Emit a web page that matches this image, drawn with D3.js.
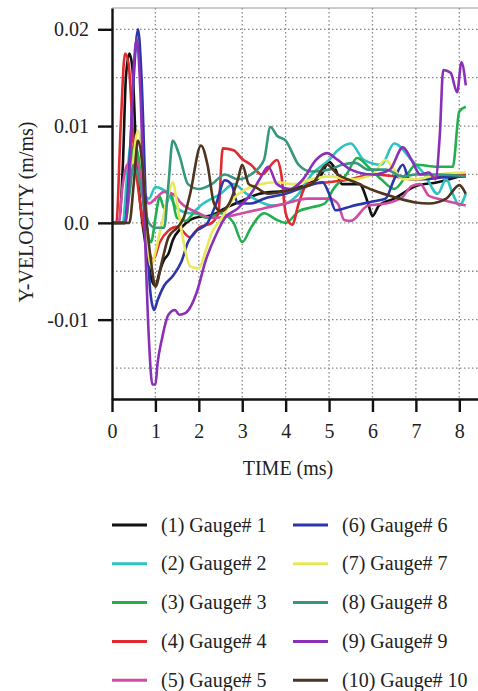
<!DOCTYPE html>
<meta charset="utf-8">
<style>
body { margin: 0; background: #fff; }
text { font-family: "Liberation Serif", "DejaVu Serif", serif; fill: #222; }
.grid line { stroke: #888; stroke-width: 1.3; stroke-dasharray: 1.5,2.5; }
.axis path, .axis line { stroke: #111; stroke-width: 2.4; }
.gauge { fill: none; stroke-width: 2.6; stroke-linejoin: round; }
</style>
<body>
<script src="https://cdn.jsdelivr.net/npm/d3@7"></script>
<script>

// gauge names and colours
var gaugeNames = ["(1) Gauge# 1", "(2) Gauge# 2", "(3) Gauge# 3", "(4) Gauge# 4", "(5) Gauge# 5",
                  "(6) Gauge# 6", "(7) Gauge# 7", "(8) Gauge# 8", "(9) Gauge# 9", "(10) Gauge# 10"];
var gaugeColors = ["#111111", "#2cc3c0", "#22b04e", "#e02a30", "#d04ca4",
                   "#2c36a8", "#e8e85a", "#35987c", "#8a30b8", "#4e3520"];

var xTicks = [0, 1, 2, 3, 4, 5, 6, 7, 8];
var yTicks = [0.02, 0.01, 0.0, -0.01];
var yTickLabels = ["0.02", "0.01", "0.0", "-0.01"];

// [time (ms), y-velocity (m/ms)]
var gauge1 = [[0,0],[0.15,0],[0.25,0.006],[0.32,0.015],[0.4,0.0175],[0.47,0.016],[0.55,0.008],[0.65,0.002],[0.8,-0.003],[0.92,-0.006],[1.0,-0.0065],[1.1,-0.005],[1.2,-0.0038],[1.3,-0.0032],[1.4,-0.0018],[1.6,-0.0005],[1.9,0.0005],[2.3,0.0008],[2.6,0.0015],[2.95,0.0022],[3.4,0.003],[4.1,0.0034],[4.5,0.004],[4.8,0.0048],[5.0,0.0063],[5.15,0.0055],[5.3,0.004],[5.7,0.004],[5.9,0.002],[6.0,0.0007],[6.15,0.0018],[6.5,0.0025],[7.0,0.0038],[7.5,0.0042],[8.15,0.005]];
var gauge2 = [[0,0],[0.25,0],[0.35,0.005],[0.45,0.0085],[0.55,0.008],[0.7,0.0035],[0.85,0.0025],[1.0,0.0037],[1.15,0.0035],[1.3,0.003],[1.5,0.0015],[1.8,0.001],[2.1,0.002],[2.5,0.003],[2.8,0.004],[3.1,0.003],[3.5,0.002],[3.7,0.0018],[4.0,0.002],[4.3,0.003],[4.6,0.005],[5.0,0.0065],[5.2,0.0075],[5.5,0.0082],[5.8,0.0065],[6.2,0.006],[6.5,0.0082],[6.9,0.0065],[7.2,0.005],[7.5,0.003],[7.7,0.0045],[7.85,0.003],[8.0,0.0018],[8.15,0.003]];
var gauge3 = [[0,0],[0.3,0],[0.4,0.004],[0.5,0.008],[0.6,0.007],[0.75,0.001],[0.9,-0.002],[1.0,0.0005],[1.1,0.0027],[1.2,0.0015],[1.35,0.003],[1.5,0.0005],[1.7,0.0002],[1.9,0.001],[2.2,0.0005],[2.5,0.001],[2.8,0.0],[3.0,-0.002],[3.2,-0.0005],[3.5,0.001],[3.8,0.0003],[4.0,0.0],[4.3,0.0012],[4.6,0.0016],[4.9,0.002],[5.1,0.0035],[5.4,0.005],[5.65,0.0067],[5.9,0.0058],[6.2,0.0045],[6.5,0.0035],[6.8,0.005],[7.0,0.006],[7.5,0.0058],[7.85,0.0058],[8.0,0.0115],[8.15,0.012]];
var gauge4 = [[0,0],[0.1,0],[0.2,0.01],[0.3,0.0175],[0.38,0.0165],[0.5,0.008],[0.65,0.002],[0.8,-0.002],[0.95,-0.0038],[1.1,-0.002],[1.3,-0.0008],[1.5,-0.0004],[1.8,-0.0015],[2.0,-0.0005],[2.3,0.0],[2.45,0.001],[2.55,0.0077],[2.8,0.0075],[3.0,0.0066],[3.2,0.006],[3.45,0.005],[3.8,0.0065],[3.9,0.005],[4.0,0.001],[4.15,-0.0002],[4.3,0.002],[4.5,0.004],[5.0,0.0042],[5.5,0.0045],[6.0,0.005],[6.5,0.0048],[7.0,0.0045],[7.5,0.0048],[8.15,0.005]];
var gauge5 = [[0,0],[0.15,0],[0.25,0.004],[0.35,0.006],[0.55,0.0065],[0.7,0.004],[0.85,0.002],[1.0,0.0025],[1.2,0.0032],[1.4,0.003],[1.6,0.002],[2.0,0.001],[2.3,0.0005],[2.7,0.0007],[3.0,0.001],[3.5,0.0015],[4.0,0.002],[4.5,0.0025],[5.0,0.0025],[5.2,0.002],[5.35,0.0003],[5.5,0.0002],[5.9,0.0018],[6.3,0.002],[6.7,0.0027],[6.9,0.0038],[7.1,0.004],[7.3,0.0028],[7.6,0.0024],[8.15,0.0018]];
var gauge6 = [[0,0],[0.3,0],[0.4,0.006],[0.5,0.015],[0.6,0.02],[0.68,0.015],[0.78,0.002],[0.88,-0.007],[0.97,-0.009],[1.05,-0.008],[1.2,-0.0065],[1.4,-0.0055],[1.6,-0.004],[1.75,-0.002],[1.9,-0.001],[2.2,0.0],[2.4,0.002],[2.6,0.0044],[2.75,0.004],[2.9,0.002],[3.2,0.002],[3.5,0.0025],[4.0,0.003],[4.5,0.0038],[4.85,0.0042],[5.0,0.003],[5.15,0.0013],[5.5,0.0017],[6.0,0.0022],[6.3,0.0025],[6.5,0.0045],[6.7,0.006],[6.85,0.0045],[7.2,0.0045],[7.6,0.0047],[8.15,0.0048]];
var gauge7 = [[0,0],[0.3,0],[0.45,0.005],[0.6,0.0095],[0.7,0.006],[0.8,-0.001],[0.9,-0.0045],[1.0,-0.003],[1.15,0.0],[1.3,0.003],[1.4,0.0042],[1.5,0.002],[1.65,-0.002],[1.8,-0.0045],[2.0,-0.0047],[2.15,-0.003],[2.3,-0.001],[2.5,0.0003],[2.8,0.0025],[3.1,0.0035],[3.4,0.004],[3.8,0.0042],[4.2,0.004],[4.6,0.0045],[5.0,0.0048],[5.5,0.0045],[6.0,0.005],[6.3,0.0065],[6.5,0.0055],[6.7,0.0045],[7.0,0.0045],[7.5,0.005],[8.15,0.0052]];
var gauge8 = [[0,0],[0.3,0],[0.4,0.003],[0.5,0.006],[0.65,0.004],[0.85,0.0],[1.0,-0.0005],[1.2,-0.0005],[1.3,0.004],[1.4,0.0085],[1.55,0.007],[1.75,0.004],[2.0,0.0035],[2.3,0.004],[2.6,0.005],[2.9,0.0045],[3.2,0.005],[3.5,0.0065],[3.65,0.0099],[3.8,0.009],[4.0,0.0085],[4.3,0.006],[4.6,0.0053],[5.0,0.0055],[5.3,0.006],[5.6,0.0062],[5.9,0.0055],[6.3,0.0055],[6.7,0.0048],[7.0,0.005],[7.5,0.005],[8.15,0.0048]];
var gauge9 = [[0,0],[0.3,0],[0.4,0.005],[0.5,0.016],[0.57,0.019],[0.65,0.014],[0.75,0.0],[0.85,-0.012],[0.93,-0.0167],[1.0,-0.0167],[1.05,-0.0145],[1.15,-0.012],[1.3,-0.0095],[1.45,-0.009],[1.55,-0.0095],[1.7,-0.0093],[1.95,-0.0072],[2.15,-0.004],[2.4,-0.0012],[2.6,0.0005],[2.9,0.0015],[3.2,0.003],[3.4,0.0045],[3.6,0.0058],[3.8,0.004],[4.1,0.0035],[4.4,0.0045],[4.7,0.0065],[4.95,0.0072],[5.2,0.0065],[5.5,0.0055],[6.0,0.005],[6.4,0.0055],[6.7,0.0078],[6.9,0.0065],[7.1,0.005],[7.3,0.0052],[7.45,0.0045],[7.55,0.009],[7.63,0.0158],[7.8,0.0155],[7.95,0.0135],[8.05,0.0166],[8.15,0.0142]];
var gauge10 = [[0,0],[0.4,0],[0.5,0.004],[0.6,0.0085],[0.7,0.006],[0.8,0.0],[0.9,-0.004],[1.0,-0.0066],[1.15,-0.004],[1.3,-0.0015],[1.5,-0.0005],[1.65,0.0005],[1.8,0.003],[2.05,0.008],[2.2,0.006],[2.35,0.002],[2.5,0.0012],[2.7,0.002],[2.9,0.0045],[3.0,0.006],[3.15,0.004],[3.3,0.0037],[3.6,0.003],[4.1,0.0034],[4.6,0.004],[4.95,0.006],[5.2,0.005],[5.6,0.0042],[6.0,0.0034],[6.4,0.0028],[6.7,0.0024],[7.0,0.0021],[7.3,0.002],[7.7,0.0025],[8.0,0.0039],[8.15,0.003]];

var gauges = [gauge1, gauge2, gauge3, gauge4, gauge5, gauge6, gauge7, gauge8, gauge9, gauge10];

var width = 478, height = 691;
var svg = d3.select("body").append("svg")
    .attr("width", width)
    .attr("height", height);

var x = d3.scaleLinear().domain([0, 8.5]).range([112, 481]);
var y = d3.scaleLinear().domain([-0.0182, 0.0222]).range([399, 8]);

// grid
var grid = svg.append("g").attr("class", "grid");
grid.selectAll(".vg")
    .data(d3.range(1, 9))
    .enter().append("line")
    .attr("x1", d => x(d)).attr("x2", d => x(d))
    .attr("y1", y.range()[1]).attr("y2", y.range()[0]);
grid.selectAll(".hg")
    .data(d3.range(-0.015, 0.021, 0.005))
    .enter().append("line")
    .attr("x1", x.range()[0]).attr("x2", width)
    .attr("y1", d => y(d)).attr("y2", d => y(d));

// top frame
svg.append("line")
    .attr("x1", x.range()[0]).attr("x2", width)
    .attr("y1", 8).attr("y2", 8)
    .attr("stroke", "#999").attr("stroke-width", 1);

// lines
var line = d3.line()
    .x(d => x(d[0]))
    .y(d => y(d[1]))
    .curve(d3.curveMonotoneX);

svg.append("g")
  .selectAll("path")
  .data(gauges)
  .enter().append("path")
    .attr("class", "gauge")
    .attr("stroke", (d, i) => gaugeColors[i])
    .attr("d", line);

// axes
svg.append("g")
    .attr("class", "axis")
    .attr("transform", "translate(0,399)")
    .call(d3.axisBottom(x).tickValues(xTicks).tickSize(13).tickSizeOuter(0).tickPadding(12))
    .call(g => g.selectAll("text").attr("font-size", 20).attr("font-family", "Liberation Serif").attr("fill", "#222"));

svg.append("g")
    .attr("class", "axis")
    .attr("transform", "translate(112,0)")
    .call(d3.axisLeft(y).tickValues(yTicks).tickSize(14).tickSizeOuter(0).tickPadding(9)
      .tickFormat((d, i) => yTickLabels[i]))
    .call(g => g.selectAll("text").attr("font-size", 20).attr("font-family", "Liberation Serif").attr("fill", "#222"));

svg.append("text")
    .attr("x", 288)
    .attr("y", 475)
    .attr("text-anchor", "middle")
    .attr("font-size", 20)
    .text("TIME (ms)");

svg.append("text")
    .attr("transform", "translate(33,212) rotate(-90)")
    .attr("text-anchor", "middle")
    .attr("font-size", 20)
    .text("Y-VELOCITY (m/ms)");

// legend
var legend = svg.append("g")
  .selectAll("g")
  .data(gaugeNames)
  .enter().append("g")
    .attr("transform", (d, i) => "translate(" + (i < 5 ? 112 : 293) + "," + (525 + (i % 5) * 38.8) + ")");

legend.append("line")
    .attr("x1", 0).attr("x2", 35)
    .attr("stroke", (d, i) => gaugeColors[i])
    .attr("stroke-width", 3);

legend.append("text")
    .attr("x", 49)
    .attr("dy", "0.33em")
    .attr("font-size", 20)
    .text(d => d);

</script>
